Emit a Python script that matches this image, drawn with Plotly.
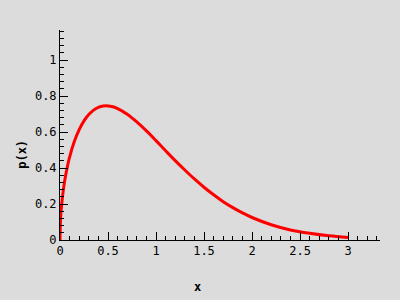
import plotly.graph_objects as go

x_vals = [0, 0.005, 0.01, 0.02, 0.04, 0.06, 0.08, 0.1, 0.15, 0.2, 0.25, 0.3, 0.35, 0.4, 0.45,
          0.5, 0.55, 0.6, 0.7, 0.8, 0.9, 1.0, 1.1, 1.2, 1.3, 1.4, 1.5, 1.6, 1.7, 1.8, 1.9,
          2.0, 2.2, 2.4, 2.6, 2.8, 3.0]
p_vals = [0, 0.106, 0.150, 0.211, 0.298, 0.362, 0.415, 0.460, 0.548, 0.613, 0.662, 0.697, 0.7215, 0.737, 0.744,
          0.745, 0.740, 0.730, 0.699, 0.656, 0.606, 0.552, 0.496, 0.441, 0.389, 0.339, 0.293, 0.251, 0.213, 0.180, 0.151,
          0.125, 0.085, 0.056, 0.037, 0.023, 0.014]

font = dict(family="DejaVu Sans Mono", size=12, color="black")

fig = go.Figure()
fig.add_trace(go.Scatter(x=x_vals, y=p_vals, mode="lines",
                         line=dict(color="#ff0000", width=3, shape="spline"),
                         showlegend=False, hoverinfo="skip"))

fig.update_layout(
    width=400, height=300,
    margin=dict(l=60, r=20, t=30, b=60, autoexpand=False),
    paper_bgcolor="#dcdcdc", plot_bgcolor="#dcdcdc",
    font=font,
    annotations=[
        dict(text="<b>x</b>", xref="paper", yref="paper", x=0.431, y=-0.225,
             showarrow=False, xanchor="center", yanchor="middle", font=font),
        dict(text="<b>p(x)</b>", xref="paper", yref="paper", x=-0.119, y=0.41,
             showarrow=False, xanchor="center", yanchor="middle", textangle=-90, font=font),
    ],
)
fig.update_xaxes(range=[0, 3.333], dtick=0.5, tick0=0, showgrid=False, zeroline=False,
                 showline=True, linecolor="black", linewidth=1, automargin=False,
                 ticks="inside", ticklen=8, tickcolor="black", tickwidth=1,
                 minor=dict(dtick=0.1, ticks="inside", ticklen=4, tickcolor="black", showgrid=False),
                 tickfont=font)
fig.update_yaxes(range=[0, 1.1667], dtick=0.2, tick0=0, showgrid=False, zeroline=False,
                 showline=True, linecolor="black", linewidth=1, automargin=False,
                 ticks="inside", ticklen=8, tickcolor="black", tickwidth=1,
                 minor=dict(dtick=0.04, ticks="inside", ticklen=4, tickcolor="black", showgrid=False),
                 tickfont=font)

fig.write_html("out.html")
